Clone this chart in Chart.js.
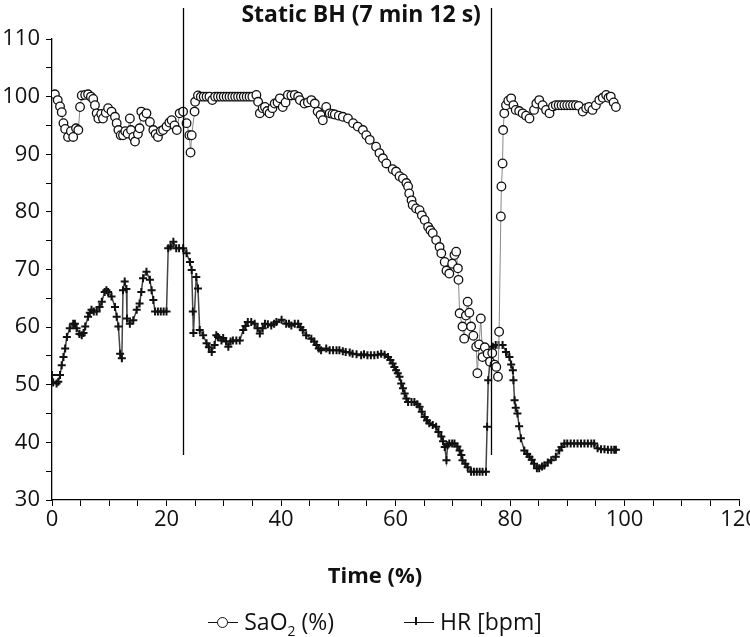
<!DOCTYPE html>
<html>
<head>
<meta charset="utf-8">
<script src="https://cdn.jsdelivr.net/npm/chart.js@4.4.1/dist/chart.umd.min.js"></script>
<style>
  body { margin: 0; background: #fff; }
  #wrap { position: relative; width: 750px; height: 637px; }
  #legend {
    position: absolute; left: 0; top: 605px; width: 750px; text-align: center;
    font-family: "Open Sans", sans-serif; font-size: 23px; color: #111; line-height: 32px;
  }
  #legend .item { display: inline-block; margin: 0 32px; }
  #legend .sym { display: inline-block; position: relative; width: 30px; height: 12px; margin-right: 6px; vertical-align: 2px; }
  #legend .ln { position: absolute; left: 0; right: 0; top: 6px; border-top: 1.5px solid #111; }
  #legend .circ { position: absolute; left: 9px; top: 1px; width: 9px; height: 9px; border: 1.3px solid #111; border-radius: 50%; background: #fff; }
  #legend .plus { position: absolute; left: 8px; top: 1px; width: 8px; height: 8px; }
  #legend .plus:before { content: ""; position: absolute; left: 3px; top: 0; width: 1.5px; height: 8px; background: #111; }
  #legend sub { font-size: 14px; }
</style>
</head>
<body>
<div id="wrap">
  <canvas id="chart" width="750" height="637"></canvas>
  <div id="legend">
    <span class="item"><span class="sym"><span class="ln"></span><span class="circ"></span></span>SaO<sub>2</sub> (%)</span>
    <span class="item"><span class="sym"><span class="ln"></span><span class="plus"></span></span>HR [bpm]</span>
  </div>
</div>
<script>
// values (time in % of recording)
const sao2Time = [0.5,1.0,1.4,1.7,2.0,2.3,2.8,3.3,3.7,4.2,4.6,4.9,5.2,5.8,6.3,6.8,7.2,7.5,7.8,8.1,8.6,8.9,9.4,9.8,10.4,11.0,11.3,11.6,12.0,12.4,12.8,13.2,13.6,13.8,14.2,14.5,15.0,15.3,15.6,16.0,16.5,17.1,17.7,18.1,18.5,19.0,19.4,20.0,20.5,20.9,21.4,21.8,22.3,22.9,23.5,24.0,24.2,24.4,24.9,25.0,25.5,26.0,26.5,27.0,27.5,28.0,28.5,29.0,29.5,30.0,30.5,31.0,31.5,32.0,32.5,33.0,33.5,34.0,34.5,35.0,35.7,36.0,36.3,36.8,37.2,37.6,38.0,38.5,38.9,39.4,39.8,40.3,40.8,41.2,41.8,42.4,43.0,43.3,44.1,44.7,45.3,45.9,46.4,46.9,47.3,47.9,48.5,49.0,49.4,50.1,50.8,51.7,52.6,53.4,54.3,54.9,55.5,56.6,57.2,57.8,58.4,59.5,60.1,60.7,61.3,61.9,62.2,62.4,62.8,63.0,63.6,64.2,64.6,65.1,65.7,66.1,66.5,67.1,67.7,68.0,68.6,68.9,69.4,69.9,70.3,70.6,70.9,71.0,71.2,71.7,72.0,72.3,72.6,72.9,73.2,73.6,74.1,74.3,74.6,74.9,75.2,75.6,76.1,76.5,76.9,77.3,77.6,77.9,78.1,78.4,78.5,78.7,78.8,79.0,79.3,79.7,80.2,80.6,81.0,81.6,82.2,82.8,83.4,84.2,84.6,85.1,85.7,86.3,86.9,87.5,88.0,88.5,89.0,89.5,90.0,90.5,91.0,91.5,92.0,92.7,93.3,93.8,94.4,95.0,95.6,96.2,96.8,97.2,97.6,98.1,98.5];
const sao2Values = [100.4,99.4,98.3,97.3,95.4,94.4,93.0,94.0,93.0,94.5,94.2,98.2,100.2,100.3,100.4,100.0,99.6,98.5,97.1,96.2,97.0,96.2,97.2,98.0,97.4,96.5,95.4,94.2,93.3,93.3,94.0,93.6,96.2,94.2,93.0,92.2,93.5,94.5,97.4,96.5,97.1,95.6,94.2,93.5,93.0,94.0,94.2,94.8,95.5,95.9,95.0,94.2,97.1,97.4,95.4,93.3,90.3,93.3,97.4,99.1,100.2,100,100,100,100,99.4,100,100,100,100,100,100,100,100,100,100,100,100,100,100,100.3,99.1,97.1,98.0,98.2,97.5,97.1,98.0,98.8,99.0,99.7,98.2,99.0,100.3,100.2,100.3,100.0,99.4,98.8,99.0,99.4,98.8,97.4,96.8,95.9,98.2,97.1,97.0,96.9,96.7,96.5,96.2,95.4,94.8,94.2,93.3,92.5,91.3,90.2,89.3,88.4,87.4,87.0,86.2,85.8,85.0,84.4,83.2,82.0,81.2,80.6,80.3,79.4,78.6,77.4,76.8,76.3,75.1,73.9,72.8,71.3,69.8,69.3,71.0,72.5,73.1,70.2,68.2,62.4,60.1,58.0,62.0,64.4,62.5,60.1,58.5,56.6,52.0,57.0,61.5,54.8,56.5,55.4,54.0,55.5,53.5,53.1,51.4,59.2,79.2,84.4,88.4,94.2,97.1,98.5,99.3,99.7,98.5,97.7,97.5,97.1,96.7,96.2,97.7,98.8,99.4,98.5,97.7,97.1,98.3,98.5,98.5,98.5,98.5,98.5,98.5,98.5,98.5,98.4,97.4,98.0,98.2,97.7,98.5,99.4,99.8,100.3,99.8,100.0,99.0,98.2];

const hrTime = [0.0,0.2,0.8,1.1,1.4,1.7,2.0,2.3,2.6,3.1,3.7,4.0,4.3,4.8,5.2,5.5,5.8,6.3,6.6,6.9,7.3,7.8,8.3,8.7,9.2,9.5,9.8,10.4,11.0,11.3,11.6,11.9,12.2,12.4,12.7,13.0,13.1,13.6,14.2,14.8,15.3,15.6,15.9,16.5,17.1,17.4,17.7,18.0,18.5,19.0,19.5,20.0,20.3,20.7,21.2,21.7,22.2,22.9,23.5,24.1,24.4,24.6,24.7,25.2,25.5,25.8,26.4,27.0,27.4,27.9,28.4,28.7,29.0,29.6,29.9,30.4,30.8,31.2,31.6,32.2,32.8,33.4,33.8,34.2,34.8,35.4,35.9,36.3,36.8,37.2,37.7,38.3,38.8,39.2,40.1,40.9,41.4,41.8,42.4,43.0,43.4,43.8,44.4,45.3,45.8,46.2,46.6,47.0,47.9,48.5,49.1,49.7,50.2,50.8,51.3,52.0,52.5,53.2,54.0,54.5,55.1,55.7,56.3,56.9,57.5,58.1,58.7,59.1,59.5,59.8,60.1,60.4,60.7,61.0,61.3,61.6,61.9,62.2,62.8,63.3,63.8,64.2,64.6,65.1,65.5,65.9,66.5,67.1,67.5,68.0,68.3,68.6,68.9,69.1,69.4,69.9,70.3,70.8,71.2,71.5,71.7,72.2,72.6,73.2,73.7,74.2,74.7,75.2,75.8,76.0,76.2,76.5,77.0,77.5,78.0,78.7,79.3,79.9,80.2,80.5,80.6,80.8,81.0,81.3,81.6,81.9,82.5,83.0,83.4,83.8,84.2,84.7,85.1,85.6,86.0,86.6,87.2,88.0,88.6,89.0,89.5,90.0,90.6,91.2,91.8,92.4,93.0,93.6,94.2,94.7,95.3,95.9,96.5,97.1,97.7,98.2,98.5];
const hrValues = [51.7,50.4,50.2,50.5,51.7,53.4,54.8,56.3,58.3,59.8,60.6,60.6,59.8,58.8,58.6,59.0,60.1,61.8,62.5,63.0,62.7,62.7,63.5,64.4,66.1,66.4,66.1,65.3,63.5,61.8,60.1,55.4,54.6,66.4,67.9,66.6,61.5,60.6,61.2,63.0,64.1,66.1,68.5,69.6,68.2,66.4,64.7,62.7,62.7,62.7,62.7,62.7,73.7,74.0,74.8,73.7,73.7,73.7,72.8,71.3,69.9,62.7,59.0,68.7,66.7,59.5,58.6,57.2,56.5,55.7,56.9,58.6,58.3,57.7,58.1,57.5,56.6,57.5,57.7,57.7,57.7,59.5,60.2,60.9,60.9,60.6,59.8,58.9,59.8,60.6,60.5,60.3,60.6,60.9,61.3,60.6,60.6,60.3,60.6,60.6,60.0,59.5,58.6,58.0,57.5,56.9,56.3,56.0,56.3,56.0,56.0,56.0,56.0,55.8,55.7,55.6,55.4,55.3,55.1,55.3,55.1,55.1,55.1,55.2,55.4,55.2,54.8,54.3,53.7,53.1,52.5,52.0,51.4,50.2,49.4,48.5,47.6,47.0,47.0,47.0,46.6,46.2,45.3,44.4,43.8,43.3,43.0,42.7,41.8,41.0,40.2,39.2,36.9,39.5,39.8,39.8,39.8,39.3,38.6,37.8,36.9,36.3,35.7,34.9,34.9,34.9,34.9,34.9,34.9,42.7,50.8,54.0,56.6,56.9,56.9,56.9,55.7,54.8,53.5,52.5,50.8,47.3,46.0,45.0,42.8,40.7,38.6,38.0,37.5,37.0,36.3,35.5,35.5,35.8,36.0,36.5,36.9,37.5,38.6,39.2,39.8,39.8,39.8,39.8,39.8,39.8,39.8,39.8,39.8,39.8,39.0,38.8,38.8,38.7,38.7,38.7,38.7];

// breath-hold start / end markers
const bhStart = 22.85;
const bhEnd = 76.6;
const bhLineTop = 115.4;
const bhLineBottom = 37.8;
const bhTitle = 'Static BH (7 min 12 s)';
const bhTitleAt = 54;     // x value under the centre of the title
const xAxisTitle = 'Time (%)';

const xTicksMajor = 20;
const yTicksMajor = 10;

function toPoints(xs, ys) {
  return xs.map((x, i) => ({ x: x, y: ys[i] }));
}

// draws the two vertical BH lines, the label above them and the x title
// (the x title in the original sits at page centre, not under the axis centre)
const bhMarkers = {
  id: 'bhMarkers',
  afterDatasetsDraw(chart) {
    const ctx = chart.ctx;
    const xs = chart.scales.x, ys = chart.scales.y;
    const top = ys.getPixelForValue(bhLineTop);
    const bottom = ys.getPixelForValue(bhLineBottom);
    ctx.save();
    ctx.strokeStyle = '#000';
    ctx.lineWidth = 1.3;
    [bhStart, bhEnd].forEach(v => {
      const px = Math.round(xs.getPixelForValue(v)) + 0.5;
      ctx.beginPath();
      ctx.moveTo(px, top);
      ctx.lineTo(px, bottom);
      ctx.stroke();
    });
    ctx.fillStyle = '#111';
    ctx.textAlign = 'center';
    ctx.textBaseline = 'middle';
    ctx.font = 'bold 23px "Open Sans", sans-serif';
    ctx.fillText(bhTitle, xs.getPixelForValue(bhTitleAt), 15);
    ctx.font = 'bold 22px "Open Sans", sans-serif';
    ctx.fillText(xAxisTitle, chart.width / 2, 577);
    ctx.restore();
  }
};

const ctx = document.getElementById('chart').getContext('2d');
const chart = new Chart(ctx, {
  type: 'line',
  data: {
    datasets: [{
      label: 'SaO2 (%)',
      data: toPoints(sao2Time, sao2Values),
      borderColor: '#8a8a8a',
      borderWidth: 1,
      pointStyle: 'circle',
      pointRadius: 4.3,
      pointBackgroundColor: '#fff',
      pointBorderColor: '#111',
      pointBorderWidth: 1.3,
      tension: 0
    }, {
      label: 'HR [bpm]',
      data: toPoints(hrTime, hrValues),
      borderColor: '#444',
      borderWidth: 1.5,
      pointStyle: 'cross',
      pointRadius: 4,
      pointBorderColor: '#111',
      pointBorderWidth: 2,
      tension: 0
    }]
  },
  options: {
    responsive: false,
    animation: false,
    devicePixelRatio: 1,
    layout: { padding: { top: 39, bottom: 42, left: 0, right: 11 } },
    plugins: {
      legend: { display: false },
      tooltip: { enabled: false },
      title: { display: false }
    },
    scales: {
      x: {
        type: 'linear',
        min: 0, max: 120,
        afterFit: s => { s.height = 95; s.paddingLeft = 0; s.paddingRight = 0; },
        ticks: {
          stepSize: 5,
          autoSkip: false,
          maxRotation: 0,
          padding: 1,
          color: '#111',
          font: { family: '"Open Sans", sans-serif', size: 22 },
          callback: v => (v % xTicksMajor === 0 ? String(v) : '')
        },
        grid: { drawOnChartArea: false, tickLength: 6, color: '#000', tickWidth: 1 },
        border: { color: '#000', width: 1.3 }
      },
      y: {
        min: 30, max: 110,
        afterFit: s => { s.width = 52; },
        ticks: {
          stepSize: 5,
          autoSkip: false,
          padding: 6,
          color: '#111',
          font: { family: '"Open Sans", sans-serif', size: 22 },
          callback: v => (v % yTicksMajor === 0 ? String(v) : '')
        },
        grid: { drawOnChartArea: false, tickLength: 6, color: '#000', tickWidth: 1 },
        border: { color: '#000', width: 1.3 }
      }
    }
  },
  plugins: [bhMarkers]
});
</script>
</body>
</html>
